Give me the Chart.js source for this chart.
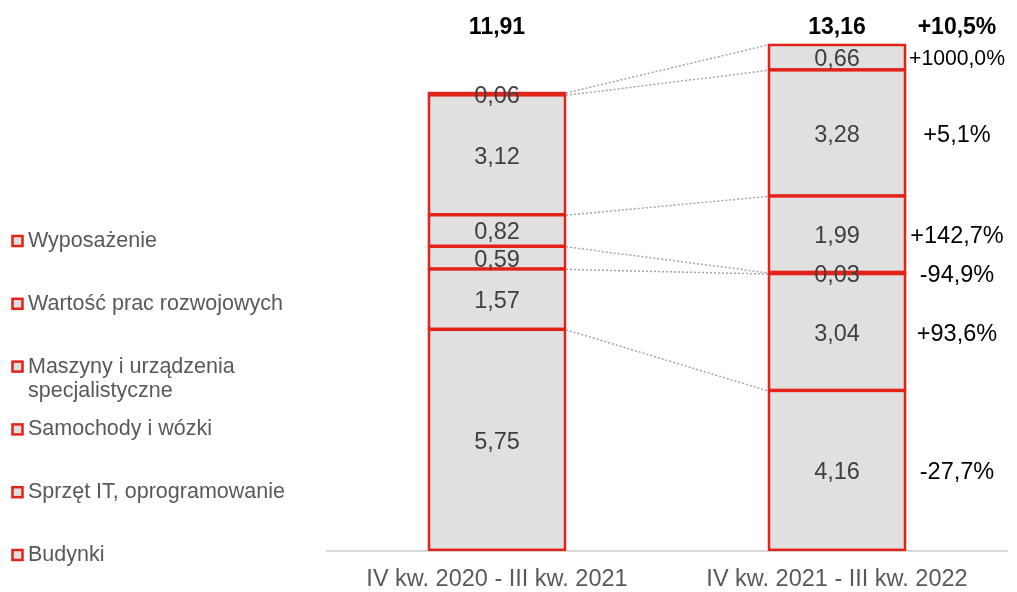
<!DOCTYPE html>
<html>
<head>
<meta charset="utf-8">
<script src="https://cdn.jsdelivr.net/npm/chart.js@4"></script>
<style>
  body { margin: 0; background: #fff; }
  #wrap { width: 1017px; height: 592px; }
</style>
</head>
<body>
<div id="wrap"><canvas id="chart"></canvas></div>
<script>
// okresy
const categories = ["IV kw. 2020 - III kw. 2021", "IV kw. 2021 - III kw. 2022"];
// kategorie od dołu stosu do góry
const seriesNames = [
  "Budynki",
  "Sprzęt IT, oprogramowanie",
  "Samochody i wózki",
  "Maszyny i urządzenia specjalistyczne",
  "Wartość prac rozwojowych",
  "Wyposażenie",
];
const budynki = [5.75, 4.16];
const sprzetIT = [1.57, 3.04];
const samochody = [0.59, 0.03];
const maszyny = [0.82, 1.99];
const praceRozwojowe = [3.12, 3.28];
const wyposazenie = [0.06, 0.66];
const totals = ["11,91", "13,16"];
// zmiana r/r dla każdej kategorii (od dołu) i ogółem
const changes = ["-27,7%", "+93,6%", "-94,9%", "+142,7%", "+5,1%", "+1000,0%"];
const totalChange = "+10,5%";

// legenda po lewej, od góry
const legendLines = [
  ["Wyposażenie"],
  ["Wartość prac rozwojowych"],
  ["Maszyny i urządzenia", "specjalistyczne"],
  ["Samochody i wózki"],
  ["Sprzęt IT, oprogramowanie"],
  ["Budynki"],
];

const RED = "#e2231a";
const GREY = "#e0e0e0";
const FONT = "'Liberation Sans', Arial, sans-serif";
Chart.defaults.font.family = FONT;

const allValues = [budynki, sprzetIT, samochody, maszyny, praceRozwojowe, wyposazenie];
const fmt = (v) => v.toFixed(2).replace(".", ",");

const labelsPlugin = {
  id: "labels",
  afterDatasetsDraw(chart) {
    const ctx = chart.ctx;
    const y = chart.scales.y;
    const metas = chart.data.datasets.map((d, i) => chart.getDatasetMeta(i));

    // obramowania segmentów (jedna linia na granicy)
    ctx.save();
    ctx.strokeStyle = RED;
    ctx.lineWidth = 2.5;
    metas.forEach((meta) => {
      meta.data.forEach((bar) => {
        const top = Math.min(bar.y, bar.base);
        ctx.strokeRect(bar.x - bar.width / 2, top, bar.width, Math.abs(bar.base - bar.y) - 1);
      });
    });
    ctx.restore();

    // kropkowane linie łączące granice segmentów
    ctx.save();
    ctx.strokeStyle = "#a6a6a6";
    ctx.lineWidth = 1.5;
    ctx.setLineDash([2, 2]);
    let cum0 = 0, cum1 = 0;
    allValues.forEach((vals, i) => {
      cum0 += vals[0];
      cum1 += vals[1];
      const b0 = metas[i].data[0], b1 = metas[i].data[1];
      ctx.beginPath();
      ctx.moveTo(b0.x + b0.width / 2 + 1, y.getPixelForValue(cum0));
      ctx.lineTo(b1.x - b1.width / 2 - 1, y.getPixelForValue(cum1));
      ctx.stroke();
    });
    ctx.restore();

    // wartości w segmentach
    ctx.save();
    ctx.textAlign = "center";
    ctx.textBaseline = "middle";
    ctx.font = "23.5px " + FONT;
    ctx.fillStyle = "#404040";
    metas.forEach((meta, i) => {
      meta.data.forEach((bar, j) => {
        ctx.fillText(fmt(allValues[i][j]), bar.x, (bar.y + bar.base) / 2 + 2);
      });
    });

    // zmiany procentowe po prawej (zmniejszone, gdy się nie mieszczą)
    const bar1 = metas[0].data[1];
    const cx = bar1.x + bar1.width / 2 + 52;
    const maxW = 96;
    metas.forEach((meta, i) => {
      const bar = meta.data[1];
      let size = 23.5;
      ctx.font = size + "px " + FONT;
      const w = ctx.measureText(changes[i]).width;
      if (w > maxW) {
        size = size * maxW / w;
        ctx.font = size + "px " + FONT;
      }
      ctx.fillStyle = "#000";
      ctx.fillText(changes[i], cx, (bar.y + bar.base) / 2 + 2);
    });

    // sumy nad słupkami
    ctx.font = "bold 23px " + FONT;
    ctx.fillStyle = "#000";
    const topMeta = metas[metas.length - 1];
    topMeta.data.forEach((bar, j) => ctx.fillText(totals[j], bar.x, 28));
    ctx.fillText(totalChange, cx, 28);
    ctx.restore();

    // legenda
    ctx.save();
    ctx.textAlign = "left";
    ctx.textBaseline = "middle";
    ctx.font = "21.5px " + FONT;
    legendLines.forEach((lines, i) => {
      const ly = 241 + i * 62.8;
      ctx.fillStyle = GREY;
      ctx.fillRect(12.5, ly - 5, 10, 10);
      ctx.strokeStyle = RED;
      ctx.lineWidth = 2.5;
      ctx.strokeRect(12.5, ly - 5, 10, 10);
      ctx.fillStyle = "#595959";
      lines.forEach((t, k) => ctx.fillText(t, 28, ly + k * 24));
    });
    ctx.restore();
  },
};

new Chart(document.getElementById("chart"), {
  type: "bar",
  data: {
    labels: categories,
    datasets: allValues.map((vals, i) => ({
      label: seriesNames[i],
      data: vals,
      backgroundColor: GREY,
      borderWidth: 0,
      barPercentage: 0.4,
      categoryPercentage: 1,
    })),
  },
  options: {
    responsive: true,
    maintainAspectRatio: false,
    animation: false,
    layout: { padding: { left: 327, right: 10, top: 0, bottom: -17 } },
    plugins: { legend: { display: false }, tooltip: { enabled: false } },
    scales: {
      x: {
        stacked: true,
        grid: { display: false, drawTicks: false },
        border: { display: true, color: "#d9d9d9", width: 2 },
        ticks: { color: "#595959", font: { size: 23.5 }, padding: 15 },
      },
      y: {
        stacked: true,
        display: false,
        min: 0,
        max: 14.33,
      },
    },
  },
  plugins: [labelsPlugin],
});
</script>
</body>
</html>
